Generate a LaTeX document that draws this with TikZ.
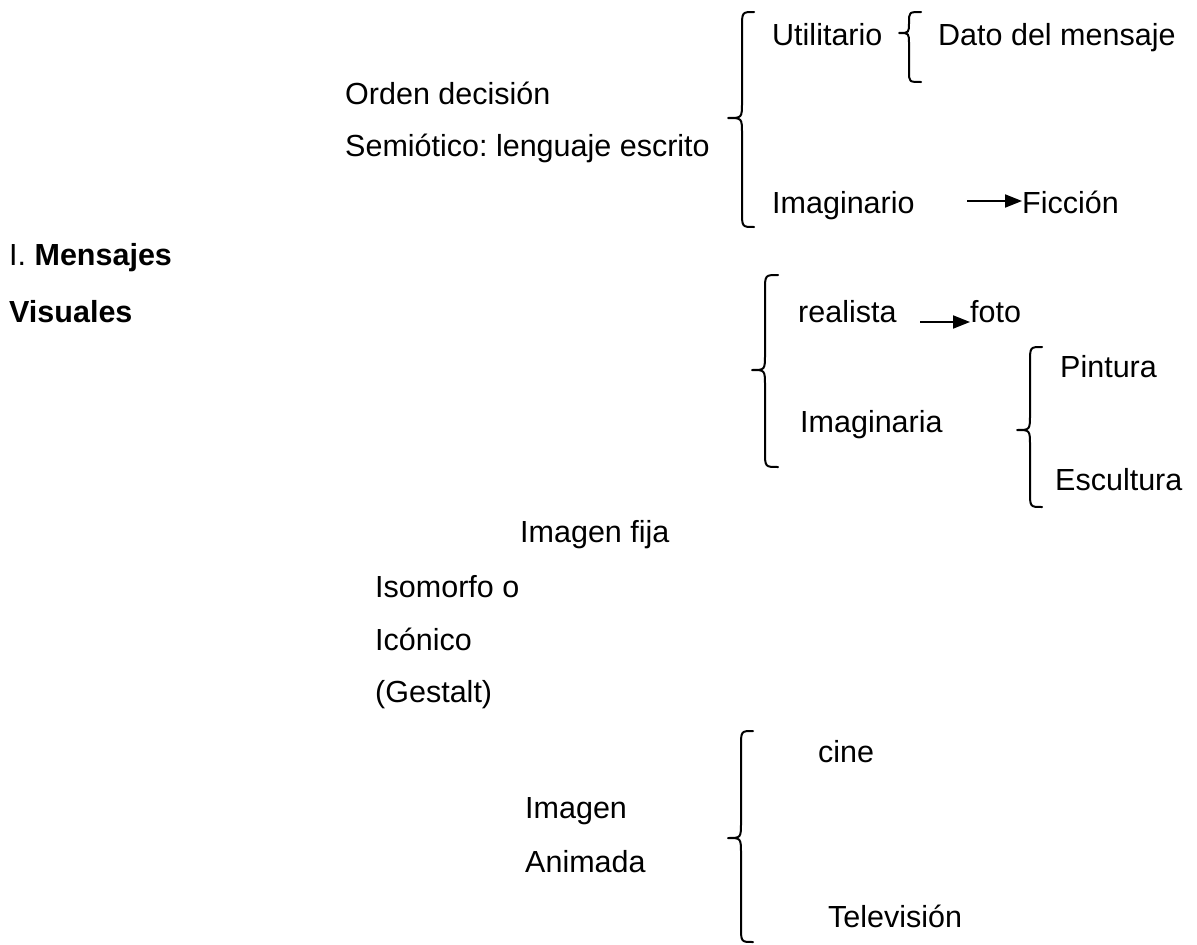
\documentclass[tikz,border=0pt]{standalone}
\usepackage{fontspec}
\setmainfont{Liberation Sans}
\usetikzlibrary{arrows.meta}
\frenchspacing
\begin{document}
\begin{tikzpicture}[x=1pt,y=-1pt,
  lbl/.style={anchor=base west,inner sep=0pt,font=\fontsize{30.5}{36}\selectfont},
  brace/.style={line width=2pt,line join=round,line cap=round},
  arr/.style={line width=2pt,-{Triangle[length=17pt,width=13pt]}}]
\useasboundingbox (0,0) rectangle (1197,945);
\def\brc#1#2#3#4#5#6#7{% xt xl xe yt ym yb r
  \draw[brace] (#3,#4) .. controls (#2,#4) .. (#2,#4+#7) -- (#2,#5-#7)
     .. controls (#2,#5) .. (#1,#5) .. controls (#2,#5) .. (#2,#5+#7)
     -- (#2,#6-#7) .. controls (#2,#6) .. (#3,#6);}
% texts
\node[lbl] (util) at (772,45) {Utilitario};
\node[lbl] (dato) at (938,45) {Dato del mensaje};
\node[lbl] (orden) at (345,104) {Orden decisión};
\node[lbl] (semi) at (345,156) {Semiótico: lenguaje escrito};
\node[lbl] (imagno) at (772,213) {Imaginario};
\node[lbl] (fic) at (1022,213) {Ficción};
\node[lbl] (mens) at (9,265) {I. \textbf{Mensajes}};
\node[lbl] (vis) at (9,322) {\textbf{Visuales}};
\node[lbl] (real) at (798,322) {realista};
\node[lbl] (foto) at (970,322) {foto};
\node[lbl] (pint) at (1060,377) {Pintura};
\node[lbl] (imagna) at (800,432) {Imaginaria};
\node[lbl] (escu) at (1055,490) {Escultura};
\node[lbl] (fija) at (520,542) {Imagen fija};
\node[lbl] (iso) at (375,597) {Isomorfo o};
\node[lbl] (ico) at (375,650) {Icónico};
\node[lbl] (gest) at (375,702) {(Gestalt)};
\node[lbl] (cine) at (818,762) {cine};
\node[lbl] (imgn) at (525,818) {Imagen};
\node[lbl] (anim) at (525,872) {Animada};
\node[lbl] (tele) at (828,927) {Televisión};
% braces
\brc{728}{742}{754}{12}{118}{227}{16}
\brc{899}{909}{921}{12}{33}{82}{11}
\brc{752}{765}{778}{275}{370}{467}{16}
\brc{1017}{1030}{1042}{347}{430}{507}{16}
\brc{728}{741}{753}{731}{838}{942}{16}
% arrows
\coordinate (a1) at (967,201);
\draw[arr] (a1) -- (a1 -| fic.west);
\coordinate (a2) at (920,322);
\draw[arr] (a2) -- (a2 -| foto.west);
\end{tikzpicture}
\end{document}
